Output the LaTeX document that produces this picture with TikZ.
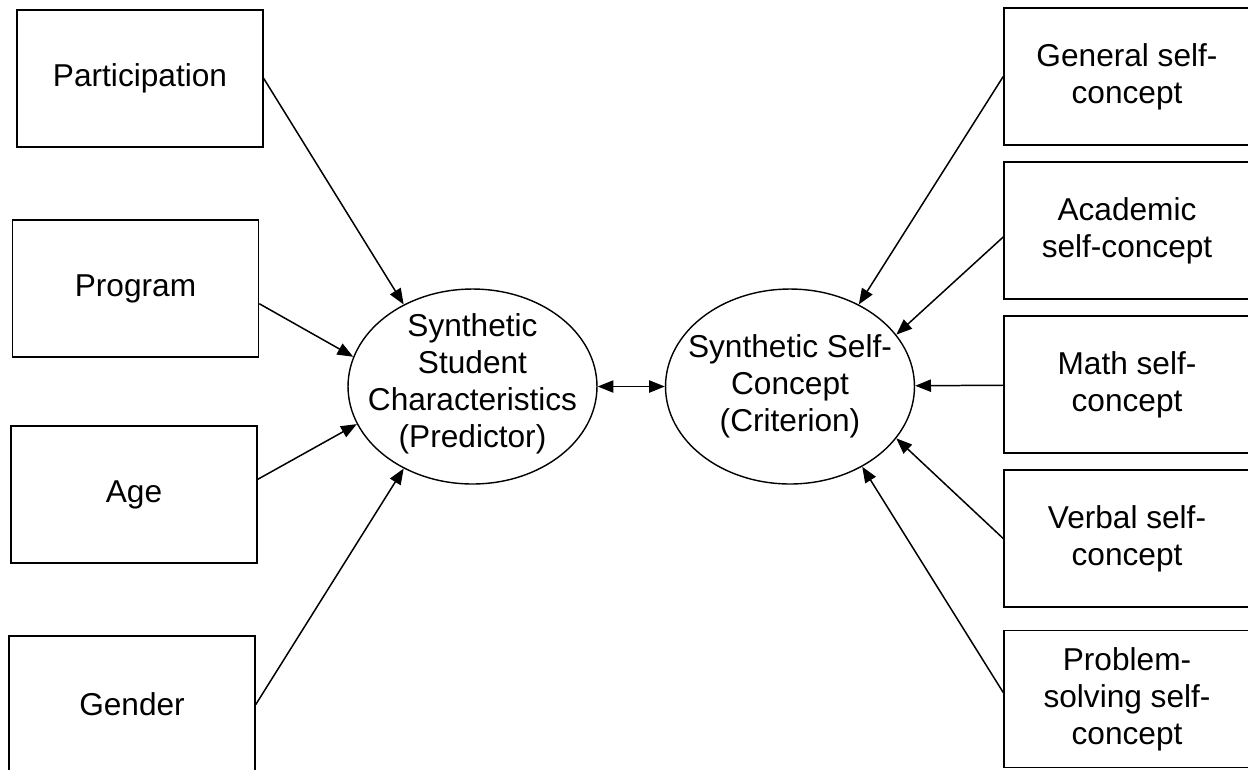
\documentclass[tikz,border=0pt]{standalone}
\usepackage{fontspec}
\setmainfont{Liberation Sans}
\usetikzlibrary{arrows.meta,shapes.geometric}
\begin{document}
\begin{tikzpicture}[x=0.02cm,y=-0.02cm,
    box/.style={draw,line width=0.9pt,minimum width=4.92cm,minimum height=2.74cm,inner sep=0pt,align=center,font=\fontsize{18}{21}\selectfont},
    latent/.style={draw,ellipse,line width=0.8pt,minimum width=4.98cm,minimum height=3.9cm,inner sep=0pt},
    lbl/.style={align=center,inner sep=0pt,font=\fontsize{18}{21}\selectfont},
    arr/.style={-{Triangle[length=9pt,width=7pt]},line width=0.85pt},
    dbl/.style={{Triangle[length=9pt,width=7pt]}-{Triangle[length=9pt,width=7pt]},line width=0.85pt}]
    \useasboundingbox (0,0) rectangle (1248,769);
    \begin{scope}
    \clip (0,0) rectangle (1248,769);
    \node[box] (part) at (140,78.5) {Participation};
    \node[box] (prog) at (135.5,288.5) {Program};
    \node[box] (age) at (134,494.5) {Age};
    \node[box] (gend) at (132,704.5) {Gender};
    \node[box] (gen) at (1127,76.5) {General self-\\concept};
    \node[box] (acad) at (1127,230.5) {Academic\\self-concept};
    \node[box] (math) at (1127,384.5) {Math self-\\concept};
    \node[box] (verb) at (1127,538.5) {Verbal self-\\concept};
    \node[box] (prob) at (1127,699) {Problem-\\solving self-\\concept};
    \end{scope}
    \node[latent] (pred) at (472.5,386.5) {};
    \node[lbl] (predtxt) at (472.5,384) {Synthetic\\Student\\Characteristics\\(Predictor)};
    \node[latent] (crit) at (790,386.5) {};
    \node[lbl] (crittxt) at (790,386) {Synthetic Self-\\Concept\\(Criterion)};
    \draw[arr] (part.east) -- (pred.130);
    \draw[arr] (prog.-7) -- (pred.166);
    \draw[arr] (age.7) -- (pred.198);
    \draw[arr] (gend.east) -- (pred.230);
    \draw[dbl] (pred) -- (crit);
    \draw[arr] (gen.west) -- (crit.50);
    \draw[arr] (acad.183) -- (crit.26);
    \draw[arr] (math) -- (crit);
    \draw[arr] (verb.west) -- (crit.-26);
    \draw[arr] (prob.177) -- (crit.-48);
\end{tikzpicture}
\end{document}
